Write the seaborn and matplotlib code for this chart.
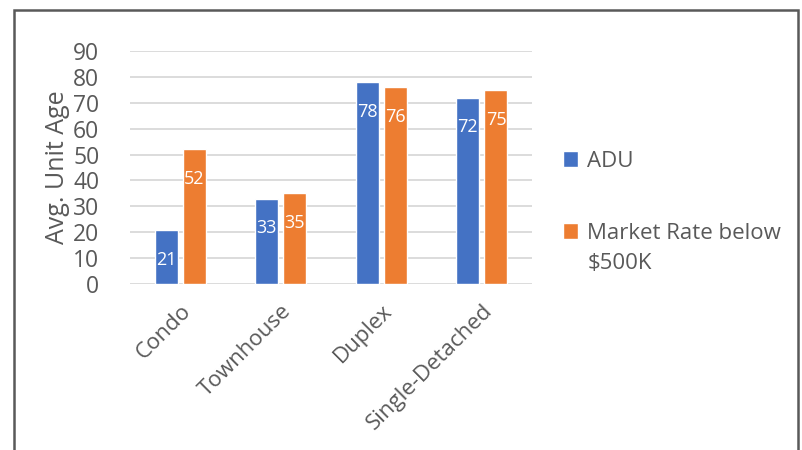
import matplotlib
matplotlib.use("Agg")
import matplotlib.pyplot as plt
import seaborn as sns
import pandas as pd
from matplotlib.patches import Rectangle

categories = ["Condo", "Townhouse", "Duplex", "Single-Detached"]
adu = [21, 33, 78, 72]
market = [52, 35, 76, 75]
series_names = ["ADU", "Market Rate below"]
legend_extra = "\\$500K"
yticks = [0, 10, 20, 30, 40, 50, 60, 70, 80, 90]

df = pd.DataFrame({
    "Type": categories * 2,
    "Value": adu + market,
    "Series": [series_names[0]] * 4 + [series_names[1]] * 4,
})

sns.set_style("white")
plt.rcParams['font.family'] = ['Open Sans', 'DejaVu Sans']
gray = "#595959"

fig = plt.figure(figsize=(8.02, 4.5), dpi=100)
ax = fig.add_axes([130/802, 1-284/450, (532-130)/802, (284-51)/450])

sns.barplot(data=df, x="Type", y="Value", hue="Series", order=categories,
            hue_order=series_names, palette=["#4472C4", "#ED7D31"],
            width=0.566, gap=0.19, ax=ax, legend=True, saturation=1)

ax.set_ylim(0, 90)
ax.set_yticks(yticks)
ax.set_yticklabels([str(t) for t in yticks], fontsize=16.5, color=gray)
ax.yaxis.grid(True, color="#D9D9D9", linewidth=1.3)
ax.set_axisbelow(True)
for s in ax.spines.values():
    s.set_visible(False)
ax.tick_params(axis="both", length=0)
ax.tick_params(axis="y", pad=22)
ax.set_xlabel("")
ax.set_ylabel("Avg. Unit Age", fontsize=18, color=gray, labelpad=2)
ax.set_xticks(range(len(categories)))
ax.set_xticklabels(categories, rotation=45, ha="right", rotation_mode="anchor",
                   fontsize=16, color=gray)
ax.tick_params(axis="x", pad=12)

for cont in ax.containers:
    ax.bar_label(cont, label_type="edge", padding=-28, color="white", fontsize=13)

leg = ax.legend(loc="upper left", bbox_to_anchor=(554/802, 1-142/450),
                bbox_transform=fig.transFigure, frameon=False, fontsize=16,
                handlelength=0.7, handleheight=0.7, handletextpad=0.4,
                labelspacing=2.3, borderaxespad=0)
for t in leg.get_texts():
    t.set_color(gray)
ax.annotate(legend_extra, xy=(0, 0), xycoords=leg.get_texts()[1],
            xytext=(0, -9), textcoords="offset pixels", va="top", ha="left",
            fontsize=16, color=gray, annotation_clip=False, zorder=20)

fig.patches.append(Rectangle((14/802, -0.1), (798-14)/802, 1.1 - 10/450,
                             transform=fig.transFigure, fill=False,
                             edgecolor="#595959", linewidth=1.8))

fig.savefig("out.png", dpi=100)
